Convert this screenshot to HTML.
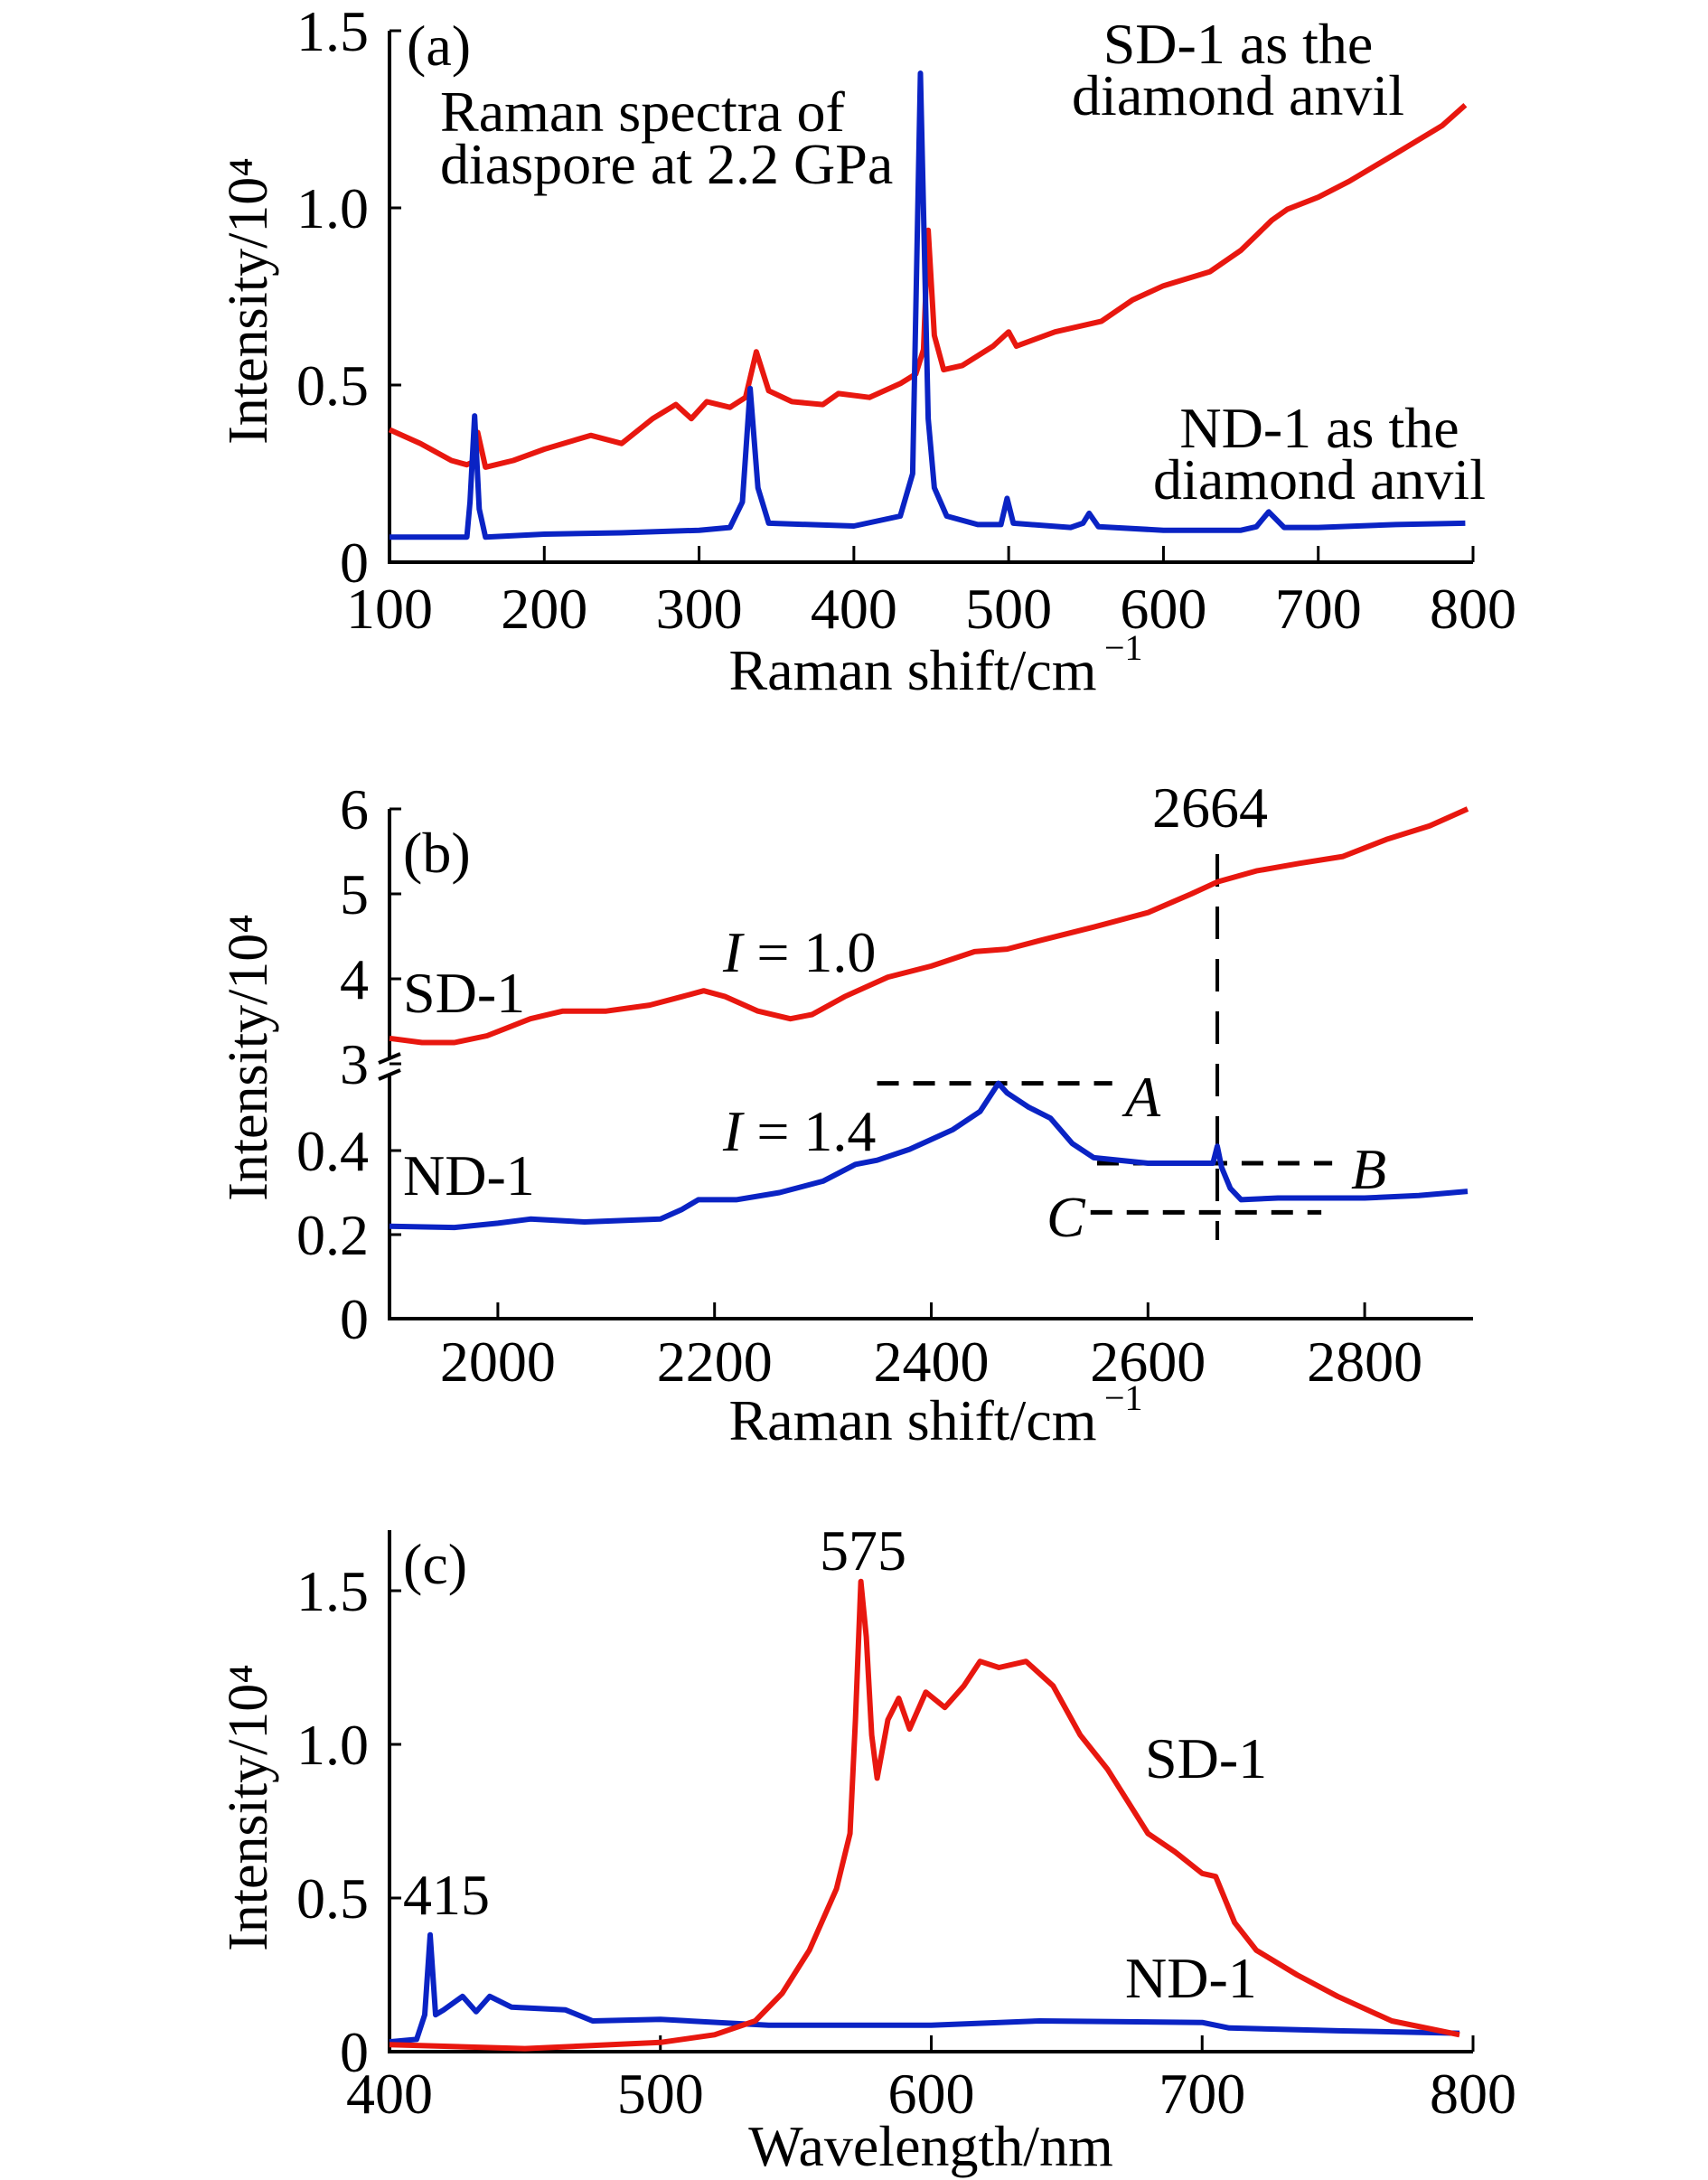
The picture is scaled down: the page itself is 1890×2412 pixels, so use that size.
<!DOCTYPE html>
<html><head><meta charset="utf-8"><style>
html,body{margin:0;padding:0;background:#fff}
svg{display:block}
text{font-family:"Liberation Serif",serif;fill:#000}
</style></head><body>
<svg id="fig" width="1890" height="2412" viewBox="0 0 1890 2412" xmlns="http://www.w3.org/2000/svg"></svg>
<script>
// Panel (a) data
const aRedX=[100,120,140,150,155,157,162,180,200,230,250,270,285,295,305,320,330,337,345,360,380,390,410,430,440,445,448,452,458,470,490,500,505,530,560,580,600,630,650,670,680,700,720,750,780,795];
const aRedY=[0.374,0.335,0.287,0.275,0.285,0.366,0.268,0.287,0.319,0.358,0.335,0.405,0.445,0.405,0.453,0.437,0.465,0.594,0.484,0.453,0.445,0.476,0.465,0.504,0.531,0.6,0.937,0.64,0.543,0.555,0.61,0.65,0.61,0.65,0.68,0.74,0.78,0.82,0.88,0.965,0.996,1.03,1.075,1.153,1.232,1.29];
const aBlueX=[100,150,152,155,158,162,200,250,300,320,328,333,338,345,400,430,438,443,448,452,460,480,495,499,503,540,548,552,558,600,650,660,668,678,700,750,795];
const aBlueY=[0.071,0.071,0.17,0.413,0.15,0.071,0.079,0.083,0.09,0.098,0.17,0.49,0.21,0.11,0.102,0.13,0.25,1.38,0.405,0.21,0.13,0.106,0.106,0.18,0.11,0.098,0.11,0.138,0.1,0.09,0.09,0.1,0.142,0.098,0.098,0.106,0.11];
const aXTicks=[100,200,300,400,500,600,700,800];
const aYTicks=[0,0.5,1.0,1.5];
const aYLabels=["0","0.5","1.0","1.5"];
// Panel (b) data
const bRedX=[1900,1930,1960,1990,2030,2060,2100,2140,2170,2190,2210,2240,2270,2290,2320,2360,2400,2440,2470,2500,2550,2600,2640,2664,2700,2740,2780,2820,2860,2895];
const bRedY=[3.3,3.25,3.25,3.33,3.53,3.62,3.62,3.69,3.79,3.86,3.79,3.62,3.53,3.58,3.79,4.02,4.15,4.32,4.35,4.45,4.61,4.78,5.0,5.14,5.27,5.36,5.44,5.64,5.8,6.0];
const bBlueX=[1900,1960,2000,2030,2080,2150,2170,2185,2220,2260,2300,2330,2350,2380,2420,2445,2462,2470,2490,2510,2530,2550,2600,2650,2660,2664,2668,2676,2686,2720,2800,2850,2895];
const bBlueY=[0.22,0.217,0.227,0.237,0.23,0.237,0.26,0.283,0.283,0.3,0.327,0.367,0.377,0.403,0.45,0.493,0.56,0.537,0.503,0.477,0.417,0.383,0.37,0.37,0.37,0.41,0.36,0.31,0.283,0.287,0.287,0.293,0.303];
const bXTicks=[2000,2200,2400,2600,2800];
const bUpperTicks=[3,4,5,6];
const bLowerTicks=[0,0.2,0.4];
const bLowerLabels=["0","0.2","0.4"];
const bLineA=[2350,2567,0.56];
const bLineB=[2553,2770,0.37];
const bLineC=[2547,2760,0.253];
const bMark=2664;
// Panel (c) data
const cRedX=[400,450,500,520,535,545,555,565,570,572,574,576,578,580,584,588,592,598,605,612,618,625,635,645,655,665,680,690,700,705,712,720,735,750,770,795];
const cRedY=[0.023,0.01,0.03,0.055,0.1,0.19,0.33,0.53,0.71,1.08,1.53,1.35,1.03,0.89,1.08,1.15,1.05,1.17,1.12,1.19,1.27,1.25,1.27,1.19,1.03,0.92,0.71,0.65,0.58,0.57,0.42,0.33,0.25,0.18,0.1,0.055];
const cBlueX=[400,410,413,415,417,420,427,432,437,445,465,475,500,540,600,640,700,710,750,795];
const cBlueY=[0.032,0.04,0.12,0.38,0.12,0.136,0.18,0.13,0.18,0.145,0.136,0.1,0.105,0.086,0.086,0.1,0.095,0.077,0.068,0.06];
const cXTicks=[400,500,600,700,800];
const cYTicks=[0,0.5,1.0,1.5];
const cYLabels=["0","0.5","1.0","1.5"];

const svg=document.getElementById('fig');
const NS='http://www.w3.org/2000/svg';
function mk(tag,attrs,parent){const e=document.createElementNS(NS,tag);for(const k in attrs)e.setAttribute(k,attrs[k]);(parent||svg).appendChild(e);return e;}
function txt(s,x,y,size,anchor,parent,extra){const t=mk('text',Object.assign({x:x,y:y,'font-size':size,'text-anchor':anchor||'start'},extra||{}),parent);t.textContent=s;return t;}
function lin(d0,d1,r0,r1){return v=>r0+(v-d0)/(d1-d0)*(r1-r0);}
function path(xs,ys,sx,sy,color,g){let d='';for(let i=0;i<xs.length;i++)d+=(i?'L':'M')+sx(xs[i]).toFixed(1)+','+sy(ys[i]).toFixed(1);return mk('path',{d:d,fill:'none',stroke:color,'stroke-width':6,'stroke-linejoin':'round'},g);}
const RED='#e8170f',BLUE='#0a23c4',FS=64;
const X0=431,X1=1630,AX=431;

// ---------- Panel a ----------
{
const g=mk('g',{});


const sx=lin(100,800,X0,X1), sy=lin(0,1.5,622,34);
const ax=mk('path',{d:`M${AX},34 V622 H${X1}`,fill:'none',stroke:'#000','stroke-width':4},g);

aXTicks.forEach(v=>{mk('line',{x1:sx(v),x2:sx(v),y1:622,y2:604,stroke:'#000','stroke-width':3},g);const t=txt(String(v),sx(v),695,FS,'middle',g);});
aYTicks.forEach((v,i)=>{mk('line',{x1:AX,x2:AX+13,y1:sy(v),y2:sy(v),stroke:'#000','stroke-width':3},g);const t=txt(aYLabels[i],408,sy(v)+22,FS,'end',g);});
const r=path(aRedX,aRedY,sx,sy,RED,g);
const b=path(aBlueX,aBlueY,sx,sy,BLUE,g);
let t;
t=txt('(a)',450,72,FS,'start',g);
t=txt('Raman spectra of',487,145,FS,'start',g);
t=txt('diaspore at 2.2 GPa',487,203,FS,'start',g);
t=txt('SD-1 as the',1370,70,FS,'middle',g);
t=txt('diamond anvil',1370,127,FS,'middle',g);
t=txt('ND-1 as the',1460,495,FS,'middle',g);
t=txt('diamond anvil',1460,552,FS,'middle',g);
t=txt('Raman shift/cm',1010,763,FS,'middle',g);
t=txt('−1',1222,730,40,'start',g);
t=txt('Intensity/10⁴',0,0,62,'middle',g,{transform:'translate(295,333) rotate(-90)'});
}

// ---------- Panel b ----------
{
const g=mk('g',{});


const sx=lin(1900,2900,X0,X1), syU=lin(3,6,1177,895), syL=lin(0,0.2,1459,1366);
const ax=mk('path',{d:`M${AX},895 V1172 M${AX},1190 V1459 H${X1}`,fill:'none',stroke:'#000','stroke-width':4},g);

const brk=mk('path',{d:`M${AX-12},1176 L${AX+12},1166 M${AX-12},1194 L${AX+12},1184`,stroke:'#000','stroke-width':4,fill:'none'},g);

bXTicks.forEach(v=>{mk('line',{x1:sx(v),x2:sx(v),y1:1459,y2:1441,stroke:'#000','stroke-width':3},g);const t=txt(String(v),sx(v),1528,FS,'middle',g);});
bUpperTicks.forEach(v=>{mk('line',{x1:AX,x2:AX+13,y1:syU(v),y2:syU(v),stroke:'#000','stroke-width':3},g);const t=txt(String(v),408,syU(v)+22,FS,'end',g);});
bLowerTicks.forEach((v,i)=>{mk('line',{x1:AX,x2:AX+13,y1:syL(v),y2:syL(v),stroke:'#000','stroke-width':3},g);const t=txt(bLowerLabels[i],408,syL(v)+22,FS,'end',g);});
const dash={stroke:'#000','stroke-width':5,'stroke-dasharray':'24,16',fill:'none'};
[[bLineA,'dashed-line-a'],[bLineB,'dashed-line-b'],[bLineC,'dashed-line-c']].forEach(([L,n])=>{const l=mk('line',Object.assign({x1:sx(L[0]),x2:sx(L[1]),y1:syL(L[2]),y2:syL(L[2])},dash),g);});
const vl=mk('line',Object.assign({x1:sx(bMark),x2:sx(bMark),y1:945,y2:1372},dash,{'stroke-width':4,'stroke-dasharray':'36,22'}),g);

const r=path(bRedX,bRedY,sx,syU,RED,g);
const b=path(bBlueX,bBlueY,sx,syL,BLUE,g);
let t;
t=txt('2664',sx(bMark)-8,915,FS,'middle',g);
t=txt('(b)',446,965,FS,'start',g);
t=txt('SD-1',446,1120,FS,'start',g);
t=txt('ND-1',446,1322,FS,'start',g);
t=txt('',800,1075,FS,'start',g);t.innerHTML='<tspan font-style="italic">I</tspan> = 1.0';
t=txt('',800,1273,FS,'start',g);t.innerHTML='<tspan font-style="italic">I</tspan> = 1.4';
t=txt('A',1245,1235,FS,'start',g,{'font-style':'italic'});
t=txt('B',1495,1315,FS,'start',g,{'font-style':'italic'});
t=txt('C',1158,1368,FS,'start',g,{'font-style':'italic'});
t=txt('Raman shift/cm',1010,1593,FS,'middle',g);
t=txt('−1',1222,1560,40,'start',g);
t=txt('Intensity/10⁴',0,0,62,'middle',g,{transform:'translate(295,1170) rotate(-90)'});
}

// ---------- Panel c ----------
{
const g=mk('g',{});


const sx=lin(400,800,X0,X1), sy=lin(0,0.5,2270,2100);
const ax=mk('path',{d:`M${AX},1693 V2270 H${X1}`,fill:'none',stroke:'#000','stroke-width':4},g);

cXTicks.forEach(v=>{mk('line',{x1:sx(v),x2:sx(v),y1:2270,y2:2252,stroke:'#000','stroke-width':3},g);const t=txt(String(v),sx(v),2338,FS,'middle',g);});
cYTicks.forEach((v,i)=>{mk('line',{x1:AX,x2:AX+13,y1:sy(v),y2:sy(v),stroke:'#000','stroke-width':3},g);const t=txt(cYLabels[i],408,sy(v)+22,FS,'end',g);});
const b=path(cBlueX,cBlueY,sx,sy,BLUE,g);
const r=path(cRedX,cRedY,sx,sy,RED,g);
let t;
t=txt('(c)',446,1752,FS,'start',g);
t=txt('575',955,1737,FS,'middle',g);
t=txt('415',446,2118,FS,'start',g);
t=txt('SD-1',1267,1967,FS,'start',g);
t=txt('ND-1',1245,2210,FS,'start',g);
t=txt('Wavelength/nm',1030,2396,FS,'middle',g);
t=txt('Intensity/10⁴',0,0,62,'middle',g,{transform:'translate(295,2000) rotate(-90)'});
}
</script>
</body></html>
